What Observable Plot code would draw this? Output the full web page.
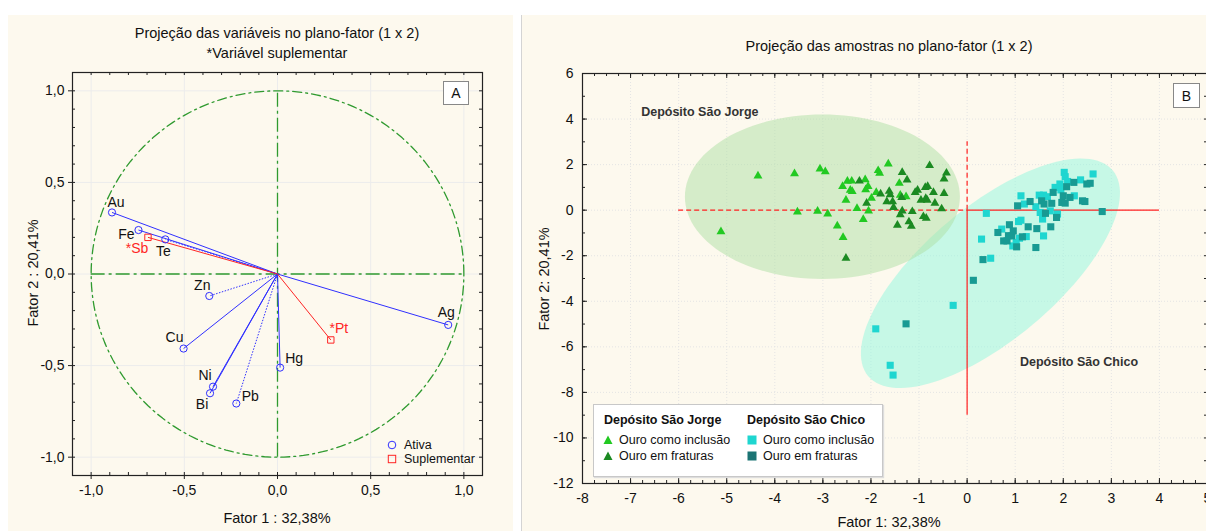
<!DOCTYPE html>
<html><head><meta charset="utf-8">
<script src="https://cdn.jsdelivr.net/npm/d3@7"></script>
<script src="https://cdn.jsdelivr.net/npm/@observablehq/plot@0.6"></script>
<style>
body{margin:0;background:#fff;width:1206px;height:531px;overflow:hidden;position:relative;font-family:"Liberation Sans",Arial,sans-serif;color:#111;}
.panel{position:absolute;background:#fdf9ee;overflow:hidden;}
#pa{left:8px;top:15px;width:505px;height:516px;}
#pb{left:521px;top:15px;width:685px;height:516px;border-left:1px solid #d4d4d4;}
.abs{position:absolute;white-space:nowrap;}
.c{transform:translate(-50%,-50%);}
.panel svg{position:absolute;left:0;top:0;overflow:visible;max-width:none !important;}
.box{position:absolute;border:1px solid #888;background:#fff;font-size:14px;display:flex;align-items:center;justify-content:center;}
</style></head><body>
<div id="pa" class="panel"></div>
<div id="pb" class="panel"></div>
<script>
// ---------- Panel A data ----------
const activeVars = ["Au","Fe","Te","Zn","Cu","Ni","Bi","Pb","Hg","Ag"];
const activeF1 = [-0.888,-0.746,-0.602,-0.366,-0.504,-0.346,-0.362,-0.221,0.014,0.916];
const activeF2 = [0.336,0.240,0.189,-0.120,-0.407,-0.615,-0.651,-0.707,-0.511,-0.278];
const suppVars = ["*Sb","*Pt"];
const suppF1 = [-0.695,0.286];
const suppF2 = [0.200,-0.360];
const ticksA = [-1,-0.5,0,0.5,1];

// ---------- Panel B data ----------
const jorgeInclF1 = [-5.12,-4.35,-3.59,-3.06,-2.95,-3.53,-3.11,-2.90,-2.70,-2.58,-2.59,-2.49,-2.40,-2.43,-2.39,-2.52,-2.12,-2.06,-2.11,-2.29,-2.16,-2.05,-1.99,-1.89,-1.85,-1.82,-1.64,-1.41,-1.39,-1.27];
const jorgeInclF2 = [-0.94,1.50,1.60,1.81,1.69,-0.08,-0.04,-0.16,-0.69,-1.20,1.04,1.27,1.28,0.88,0.82,0.44,1.34,1.04,0.90,0.08,-0.41,-0.03,0.53,0.78,1.74,1.62,2.03,1.18,0.66,0.59];
const jorgeFratF1 = [-2.52,-2.24,-2.09,-1.80,-1.62,-1.60,-1.67,-1.55,-1.53,-1.35,-1.25,-1.36,-1.35,-1.39,-1.45,-1.14,-1.21,-1.16,-1.08,-1.03,-0.78,-0.87,-0.82,-0.70,-0.96,-0.86,-0.83,-0.67,-0.91,-0.85,-0.48,-0.48,-0.43,-0.53];
const jorgeFratF2 = [-2.11,1.28,0.31,0.71,0.83,0.68,0.37,0.37,0.12,1.66,1.33,0.56,-0.03,-0.20,-0.66,-0.06,-0.51,-0.70,0.78,0.88,1.96,1.00,1.04,0.78,0.44,0.52,0.44,0.31,-0.28,-0.35,0.74,1.37,1.63,0.06];
const chicoInclF1 = [0.40,0.30,0.49,0.72,0.95,1.07,1.12,1.09,1.23,1.12,1.19,1.59,1.50,1.59,1.43,1.52,1.57,1.67,1.73,1.88,1.83,1.93,2.02,2.04,2.09,2.23,2.36,2.62,1.95,1.02,-0.29,-1.90,-1.60,-1.54];
const chicoInclF2 = [-0.14,-1.27,-2.11,-0.83,-1.57,-0.50,-0.44,-1.23,-1.16,0.63,0.27,-1.13,0.66,0.66,0.15,-0.10,-0.39,0.59,-0.03,-0.17,1.00,1.15,1.66,1.47,1.26,0.63,1.33,1.59,0.89,-1.42,-4.18,-5.21,-6.81,-7.24];
const chicoFratF1 = [0.33,0.13,0.64,0.76,0.83,0.88,0.93,0.96,1.03,1.15,1.05,1.31,1.27,1.43,1.45,1.55,1.60,1.63,1.74,1.86,1.76,1.79,2.00,1.97,2.04,2.07,2.14,2.22,2.40,2.45,2.49,2.56,2.81,-1.27,0.86];
const chicoFratF2 = [-2.17,-3.08,-0.98,-1.35,-1.35,-0.64,-1.13,-0.91,-1.61,-1.17,0.19,0.38,-0.73,-1.64,-0.81,0.41,0.27,-0.14,-0.73,-0.32,0.30,0.78,0.63,0.34,0.31,1.03,0.56,1.22,0.41,0.38,1.15,1.18,-0.06,-4.99,-1.12];
// confidence ellipses: centre, axis vectors (data units)
const jorgeEllipseCenter = [-3.01, 0.59];
const jorgeEllipseAxes = [[2.86, 0], [0, 3.61]];
const chicoEllipseCenter = [0.485, -2.77];
const chicoEllipseAxes = [[2.545, 4.51], [0.885, -2.243]];
const groupLabels = ["Depósito São Jorge","Depósito São Chico"];
const groupLabelF1 = [-6.78, 1.10];
const groupLabelF2 = [4.30, -6.67];
const ticksBx = d3.range(-8, 6);
const ticksBy = d3.range(-12, 7, 2);

// ---------- helpers ----------
const FONT = '"Liberation Sans", Arial, sans-serif';
function addText(panel, html, x, y, style) {
  const d = document.createElement("div");
  d.className = "abs c";
  d.innerHTML = html;
  d.style.left = x + "px"; d.style.top = y + "px";
  Object.assign(d.style, style || {});
  panel.appendChild(d);
  return d;
}
const fmtA = d => d.toFixed(1).replace(".", ",");
const fmtB = d => String(d);

// ---------- Panel A ----------
const pa = document.getElementById("pa");
{
  const W = 505, H = 516, ml = 64, mr = 31, mt = 57, mb = 56;
  const FW = W - ml - mr, FH = H - mt - mb;
  const BLUE = "#3030ff", RED = "#ff2525", GREEN = "#2f9a2f";
  const minor = d3.range(-10, 11).map(i => i / 10);
  const circle = d3.range(0, 361, 2).map(a => ({x: Math.cos(a * Math.PI / 180), y: Math.sin(a * Math.PI / 180)}));
  const idx = activeVars.map((_, i) => i);
  const sidx = suppVars.map((_, i) => i);
  const dotted = new Set(["Zn", "Pb", "Te"]);
  const off = {Au:[4,-10],Fe:[-12,4],Te:[-2,12],Zn:[-7,-10],Cu:[-9,-11],Ni:[-8,-11],Bi:[-8,11],Pb:[14,-7],Hg:[14,-9],Ag:[-2,-12],"*Sb":[-11,11],"*Pt":[8,-11]};
  const marks = [
    Plot.ruleX(ticksA, {stroke: "#ececec"}),
    Plot.ruleY(ticksA, {stroke: "#ececec"}),
    Plot.line(circle, {x: "x", y: "y", stroke: GREEN, strokeWidth: 1.3, strokeDasharray: "9,4,2,4"}),
    Plot.ruleY([0], {x1: -1, x2: 1, stroke: GREEN, strokeWidth: 1.3, strokeDasharray: "14,4,3,4"}),
    Plot.ruleX([0], {y1: -1, y2: 1, stroke: GREEN, strokeWidth: 1.3, strokeDasharray: "14,4,3,4"}),
    ...idx.map(i => Plot.link([i], {x1: () => 0, y1: () => 0, x2: j => activeF1[j], y2: j => activeF2[j], stroke: BLUE, strokeWidth: 1, strokeDasharray: dotted.has(activeVars[i]) ? "1.5,1.5" : null})),
    ...sidx.map(i => Plot.link([i], {x1: () => 0, y1: () => 0, x2: j => suppF1[j], y2: j => suppF2[j], stroke: RED, strokeWidth: 1})),
    Plot.dot(idx, {x: i => activeF1[i], y: i => activeF2[i], r: 3.6, stroke: BLUE, fill: "none", strokeWidth: 1}),
    Plot.dot(sidx, {x: i => suppF1[i], y: i => suppF2[i], symbol: "square", r: 3.6, stroke: RED, fill: "none", strokeWidth: 1}),
    ...idx.map(i => Plot.text([i], {x: j => activeF1[j], y: j => activeF2[j], text: j => activeVars[j], dx: off[activeVars[i]][0], dy: off[activeVars[i]][1], fill: "#111", fontSize: 14})),
    ...sidx.map(i => Plot.text([i], {x: j => suppF1[j], y: j => suppF2[j], text: j => suppVars[j], dx: off[suppVars[i]][0], dy: off[suppVars[i]][1], fill: RED, fontSize: 14})),
    // ticks
    Plot.ruleY(ticksA, {insetRight: FW, insetLeft: -4, stroke: "#222"}),
    Plot.ruleX(ticksA, {insetTop: FH, insetBottom: -4, stroke: "#222"}),
    Plot.ruleY(minor, {insetRight: FW - 3, stroke: "#222"}),
    Plot.ruleY(minor, {insetLeft: FW - 3, stroke: "#222"}),
    Plot.ruleX(minor, {insetTop: FH - 3, stroke: "#222"}),
    Plot.ruleX(minor, {insetBottom: FH - 3, stroke: "#222"}),
    Plot.frame({stroke: "#222", strokeWidth: 1.2})
  ];
  const svg = Plot.plot({
    width: W, height: H, marginLeft: ml, marginRight: mr, marginTop: mt, marginBottom: mb,
    style: {background: "transparent", fontFamily: FONT, fontSize: "14px", color: "#111", overflow: "visible", maxWidth: "none"},
    x: {domain: [-1.1, 1.1], ticks: ticksA, tickFormat: fmtA, tickSize: 0, tickPadding: 10, label: null},
    y: {domain: [-1.1, 1.1], ticks: ticksA, tickFormat: fmtA, tickSize: 0, tickPadding: 8, label: null},
    marks
  });
  pa.appendChild(svg);
  addText(pa, "Projeção das variáveis no plano-fator (1 x 2)", 269, 18, {fontSize: "14.5px"});
  addText(pa, "*Variável suplementar", 269, 38, {fontSize: "14.5px"});
  addText(pa, "Fator 1 : 32,38%", 269, 503, {fontSize: "14.5px"});
  addText(pa, "Fator 2 : 20,41%", 25, 258, {fontSize: "14.5px", transform: "translate(-50%,-50%) rotate(-90deg)"});
  const b = document.createElement("div");
  b.className = "box"; b.textContent = "A";
  Object.assign(b.style, {left: "435px", top: "66px", width: "24px", height: "22px"});
  pa.appendChild(b);
  // legend
  const lg = document.createElement("div");
  lg.className = "abs";
  lg.style.left = "378px"; lg.style.top = "423px"; lg.style.fontSize = "12.5px"; lg.style.lineHeight = "14px";
  lg.innerHTML = `<div style="display:flex;align-items:center"><svg width="14" height="14" style="position:static;margin-right:4px"><circle cx="6" cy="7" r="3.8" fill="none" stroke="${BLUE}"/></svg>Ativa</div>
  <div style="display:flex;align-items:center"><svg width="14" height="14" style="position:static;margin-right:4px"><rect x="2.3" y="3.3" width="7.4" height="7.4" fill="none" stroke="${RED}"/></svg>Suplementar</div>`;
  pa.appendChild(lg);
}

// ---------- Panel B ----------
const pb = document.getElementById("pb");
{
  const W = 700, H = 516, ml = 60, mr = 15, mt = 58, mb = 48;
  const FW = W - ml - mr, FH = H - mt - mb;
  const RED = "#ff2020";
  const C_JI = "#22c922", C_JF = "#1b8a22", C_CI = "#1fd6d0", C_CF = "#189a93";
  const ellipse = (c, ax) => d3.range(0, 361, 3).map(a => {
    const t = a * Math.PI / 180;
    return {x: c[0] + Math.cos(t) * ax[0][0] + Math.sin(t) * ax[1][0], y: c[1] + Math.cos(t) * ax[0][1] + Math.sin(t) * ax[1][1]};
  });
  const minorX = d3.range(-32, 21).map(i => i / 4);
  const minorY = d3.range(-12, 7);
  const pts = (xs, ys) => xs.map((x, i) => ({x, y: ys[i]}));
  const marks = [
    Plot.ruleX(ticksBx, {stroke: "#e4e4e4", strokeDasharray: "1,2"}),
    Plot.ruleY(ticksBy, {stroke: "#e4e4e4", strokeDasharray: "1,2"}),
    Plot.line(ellipse(chicoEllipseCenter, chicoEllipseAxes), {x: "x", y: "y", fill: "#90f8dd", fillOpacity: 0.5, stroke: "none", curve: "linear-closed"}),
    Plot.line(ellipse(jorgeEllipseCenter, jorgeEllipseAxes), {x: "x", y: "y", fill: "#aee0a4", fillOpacity: 0.5, stroke: "none", curve: "linear-closed"}),
    Plot.ruleY([0], {x1: -6, x2: 0, stroke: RED, strokeDasharray: "5,3", strokeWidth: 1.2}),
    Plot.ruleX([0], {y1: 0, y2: 3, stroke: RED, strokeDasharray: "5,3", strokeWidth: 1.2}),
    Plot.ruleY([0], {x1: 0, x2: 4, stroke: RED, strokeWidth: 1.2}),
    Plot.ruleX([0], {y1: -9, y2: 0, stroke: RED, strokeWidth: 1.2}),
    Plot.dot(pts(jorgeInclF1, jorgeInclF2), {x: "x", y: "y", symbol: "triangle", r: 3.3, fill: C_JI}),
    Plot.dot(pts(jorgeFratF1, jorgeFratF2), {x: "x", y: "y", symbol: "triangle", r: 3.3, fill: C_JF}),
    Plot.dot(pts(chicoInclF1, chicoInclF2), {x: "x", y: "y", symbol: "square", r: 4, fill: C_CI}),
    Plot.dot(pts(chicoFratF1, chicoFratF2), {x: "x", y: "y", symbol: "square", r: 4, fill: C_CF}),
    Plot.text(groupLabels, {x: (d, i) => groupLabelF1[i], y: (d, i) => groupLabelF2[i], text: d => d, textAnchor: "start", fontWeight: "bold", fontSize: 12.5, fill: "#333"}),
    // ticks (inward)
    Plot.ruleX(minorX, {insetTop: FH - 3, stroke: "#222"}),
    Plot.ruleX(ticksBx, {insetTop: FH - 5, stroke: "#222"}),
    Plot.ruleX(minorX, {insetBottom: FH - 3, stroke: "#222"}),
    Plot.ruleX(ticksBx, {insetBottom: FH - 5, stroke: "#222"}),
    Plot.ruleY(minorY, {insetRight: FW - 3, stroke: "#222"}),
    Plot.ruleY(ticksBy, {insetRight: FW - 5, stroke: "#222"}),
    Plot.ruleY(minorY, {insetLeft: FW - 3, stroke: "#222"}),
    Plot.frame({stroke: "#222", strokeWidth: 1.2})
  ];
  const svg = Plot.plot({
    width: W, height: H, marginLeft: ml, marginRight: mr, marginTop: mt, marginBottom: mb,
    style: {background: "transparent", fontFamily: FONT, fontSize: "14px", color: "#111", overflow: "visible", maxWidth: "none"},
    x: {domain: [-8, 5], ticks: ticksBx, tickFormat: fmtB, tickSize: 0, tickPadding: 10, label: null},
    y: {domain: [-12, 6], ticks: ticksBy, tickFormat: fmtB, tickSize: 0, tickPadding: 9, label: null},
    marks
  });
  pb.appendChild(svg);
  addText(pb, "Projeção das amostras no plano-fator (1 x 2)", 367, 31, {fontSize: "14.5px"});
  addText(pb, "Fator 1: 32,38%", 367, 507, {fontSize: "14.5px"});
  addText(pb, "Fator 2: 20,41%", 22, 264, {fontSize: "14.5px", transform: "translate(-50%,-50%) rotate(-90deg)"});
  const b = document.createElement("div");
  b.className = "box"; b.textContent = "B";
  Object.assign(b.style, {left: "651px", top: "68px", width: "25px", height: "23px"});
  pb.appendChild(b);
  // legend
  const lg = document.createElement("div");
  lg.className = "abs";
  Object.assign(lg.style, {left: "71px", top: "389px", width: "288px", height: "71px", background: "#fff", border: "1px solid #c8c8c8", boxShadow: "1px 1px 1px #ddd", fontSize: "12.5px"});
  const tri = c => `<svg width="12" height="12" style="position:static"><path d="M6,1.5 L10.5,10 L1.5,10 Z" fill="${c}"/></svg>`;
  const sq = c => `<svg width="12" height="12" style="position:static"><rect x="1.5" y="1.5" width="9" height="9" fill="${c}"/></svg>`;
  const item = (x, y, sym, txt) => `<div class="abs" style="left:${x}px;top:${y}px;display:flex;align-items:center;gap:5px">${sym}<span>${txt}</span></div>`;
  lg.innerHTML =
    `<div class="abs" style="left:10px;top:8px;font-weight:bold">Depósito São Jorge</div>` +
    `<div class="abs" style="left:153px;top:8px;font-weight:bold">Depósito São Chico</div>` +
    item(8, 28, tri(C_JI), "Ouro como inclusão") +
    item(8, 44, tri(C_JF), "Ouro em fraturas") +
    item(152, 28, sq(C_CI), "Ouro como inclusão") +
    item(152, 44, sq("#1b7474"), "Ouro em fraturas");
  pb.appendChild(lg);
}
</script>
</body></html>
